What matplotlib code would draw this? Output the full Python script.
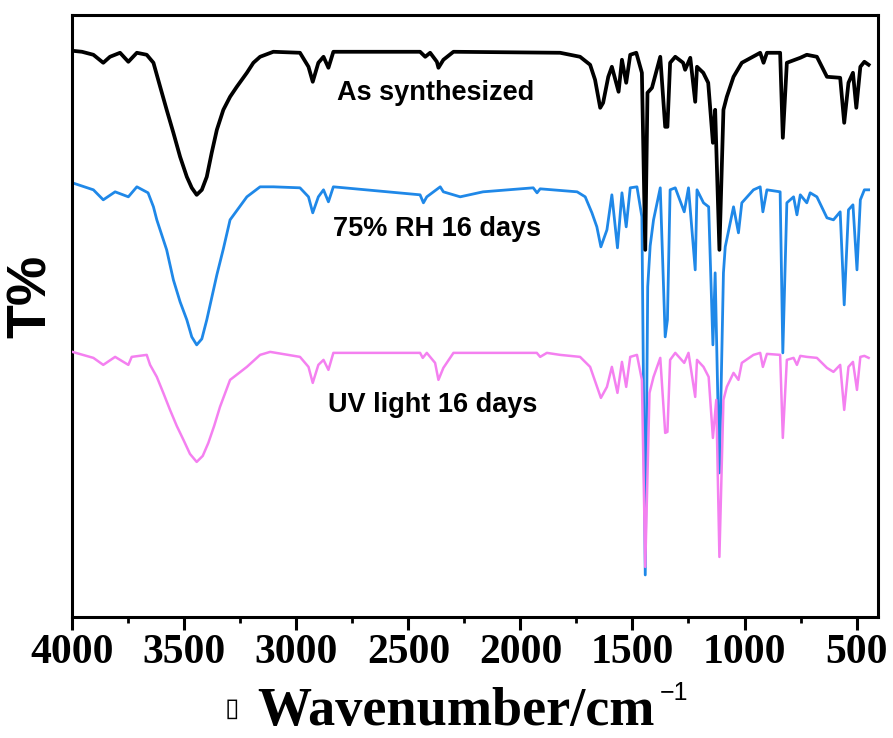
import numpy as np
import matplotlib.pyplot as plt

wn_black = [4000, 3957, 3906, 3862, 3832, 3787, 3750, 3712, 3668, 3638, 3608, 3579,
            3549, 3519, 3489, 3467, 3445, 3422, 3400, 3378, 3355, 3326, 3296, 3266,
            3221, 3192, 3162, 3103, 2984, 2946, 2927, 2902,
            2879, 2857, 2835, 2448, 2425, 2403, 2373, 2366, 2344, 2299, 1823, 1734,
            1689, 1667, 1644, 1631, 1608, 1592, 1562, 1547, 1528, 1510, 1483, 1458,
            1443, 1433, 1413, 1376, 1354, 1344, 1332, 1309, 1274, 1265, 1242, 1220,
            1212, 1184, 1162, 1141, 1131, 1112, 1094, 1079, 1049, 1012, 930, 915,
            900, 841, 829, 811, 751, 722, 677, 632, 573, 555, 536, 516, 501, 483,
            465, 446]
t_black = [566, 565, 562, 554, 560, 564, 555, 564, 562, 554, 530, 507,
           484, 460, 440, 429, 422, 427, 440, 464, 487, 507, 520, 530,
           544, 554, 560, 565, 564, 550, 535, 554,
           560, 549, 565, 565, 560, 564, 555, 549, 557, 565, 564, 560,
           552, 537, 509, 514, 540, 550, 525, 557, 534, 562, 564, 544,
           367, 524, 529, 560, 490, 490, 554, 560, 554, 547, 559, 515,
           550, 544, 534, 474, 507, 367, 507, 520, 540, 554, 564, 554,
           564, 564, 479, 554, 559, 562, 560, 540, 539, 494, 534, 544, 509, 550,
           555, 552]

wn_blue = [4000, 3906, 3862, 3809, 3750, 3712, 3662, 3638, 3623, 3579, 3549, 3519,
           3489, 3467, 3445, 3422, 3400, 3378, 3355, 3326, 3296, 3221, 3162, 3103,
           2984, 2946, 2927, 2902, 2879, 2857,
           2835, 2448, 2433, 2418, 2358, 2344, 2269, 2167, 1943, 1926, 1912, 1747,
           1711, 1681, 1659, 1641, 1614, 1592, 1567, 1547, 1528, 1510, 1480, 1458,
           1443, 1432, 1421, 1406, 1376, 1354, 1344, 1332, 1309, 1269, 1250, 1220,
           1212, 1183, 1160, 1141, 1131, 1112, 1094, 1086, 1049, 1027, 1012, 960,
           930, 918, 900, 841, 829, 811, 781, 766, 751, 722, 707, 677, 632, 603,
           573, 555, 536, 516, 498, 483, 465, 446]
t_blue = [434, 427, 417, 425, 420, 430, 424, 410, 397, 367, 337, 315,
          297, 280, 272, 278, 297, 319, 342, 368, 397, 420, 430, 430,
          429, 420, 404, 420, 427, 415,
          430, 422, 414, 420, 430, 425, 420, 425, 429, 424, 428, 425,
          420, 404, 390, 370, 387, 422, 369, 424, 390, 429, 430, 400,
          42, 330, 371, 397, 429, 280, 297, 427, 429, 405, 429, 347,
          427, 414, 410, 272, 344, 144, 344, 370, 410, 384, 414, 427,
          430, 405, 427, 425, 264, 414, 420, 402, 422, 414, 424, 420, 399, 397,
          405, 312, 407, 412, 347, 417, 427, 427]

wn_pink = [4000, 3906, 3862, 3809, 3750, 3735, 3668, 3653, 3623, 3594, 3564, 3534,
           3504, 3475, 3445, 3418, 3393, 3367, 3341, 3296, 3221, 3162, 3117,
           2984, 2946, 2927, 2902, 2879, 2857,
           2835, 2448, 2436, 2418, 2381, 2366, 2344, 2299, 1927, 1912, 1882, 1823,
           1734, 1689, 1641, 1614, 1592, 1567, 1547, 1528, 1510, 1480, 1458, 1443,
           1424, 1406, 1376, 1354, 1344, 1332, 1309, 1269, 1250, 1220, 1212, 1183,
           1160, 1141, 1126, 1112, 1094, 1079, 1049, 1027, 1012, 960, 930, 918,
           900, 841, 829, 811, 781, 766, 751, 722, 677, 632, 603, 573, 555, 536,
           516, 498, 483, 465, 446]
t_pink = [265, 259, 252, 260, 252, 260, 262, 252, 240, 224, 207, 191,
          177, 163, 155, 161, 174, 191, 210, 237, 250, 262, 265,
          260, 250, 234, 252, 257, 247,
          264, 264, 259, 264, 254, 237, 249, 264, 264, 260, 264, 262,
          260, 250, 219, 230, 250, 224, 255, 230, 260, 262, 237, 50,
          224, 240, 259, 184, 185, 257, 264, 254, 264, 220, 257, 250,
          240, 179, 217, 60, 217, 230, 244, 237, 254, 262, 264, 250,
          263, 262, 179, 257, 259, 252, 261, 260, 259, 249, 245, 252, 207, 250,
          255, 227, 260, 261, 259]

labels = ['As synthesized', '75% RH 16 days', 'UV light 16 days']
xticks = [4000, 3500, 3000, 2500, 2000, 1500, 1000, 500]

fig = plt.figure(figsize=(8.93, 7.38), dpi=100)
ax = fig.add_axes([0.081, 0.164, 0.902, 0.816])

ax.plot(wn_blue, t_blue, color='#1f88e8', lw=2.0, zorder=2)
ax.plot(wn_pink, t_pink, color='#f480f0', lw=1.8, zorder=3)
ax.plot(wn_black, t_black, color='black', lw=2.7, zorder=4)

ax.set_xlim(4000, 405)
ax.set_ylim(0, 602)

ax.set_xticks(xticks)
ax.set_xticks(np.arange(3750, 400, -500), minor=True)
ax.tick_params(axis='x', which='major', direction='out', length=9, width=2.2, pad=3)
ax.tick_params(axis='x', which='minor', direction='out', length=4.5, width=2.0)
ax.set_yticks([])
for lab in ax.get_xticklabels():
    lab.set_fontfamily('Liberation Serif')
    lab.set_fontweight('bold')
    lab.set_fontsize(30)
for s in ax.spines.values():
    s.set_linewidth(2.2)

# curve labels
ax.text(2818, 524, labels[0], fontsize=19.5, fontweight='bold', family='Liberation Sans', va='center')
ax.text(2836, 388, labels[1], fontsize=19.5, fontweight='bold', family='Liberation Sans', va='center')
ax.text(2858, 212, labels[2], fontsize=19.5, fontweight='bold', family='Liberation Sans', va='center')

fig.text(0.036, 0.599, 'T%', rotation=90, fontsize=40, fontweight='bold',
         family='Liberation Sans', ha='center', va='center')

fig.text(0.288, 0.017, 'Wavenumber/cm', fontsize=39, fontweight='bold',
         family='Liberation Serif', ha='left', va='baseline')
fig.text(0.739, 0.052, '\u22121', fontsize=18, family='Liberation Sans',
         ha='left', va='baseline')
fig.text(0.251, 0.030, '\u25af', fontsize=19, family='DejaVu Sans', ha='left', va='baseline')

fig.savefig('out.png', dpi=100)
